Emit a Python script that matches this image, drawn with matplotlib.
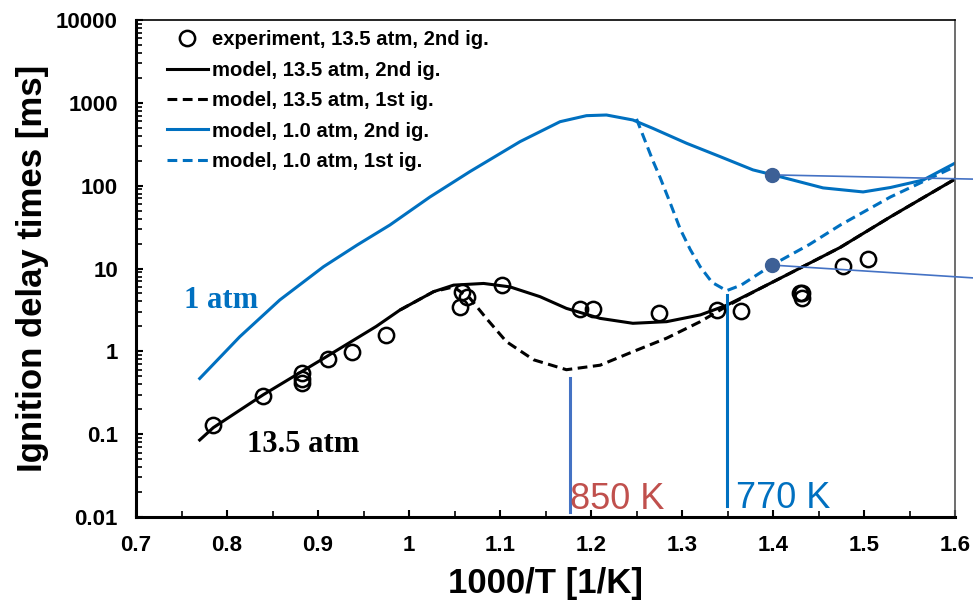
import matplotlib
matplotlib.use("Agg")
import matplotlib.pyplot as plt
from matplotlib.ticker import FixedLocator, LogLocator, NullFormatter

# experiment, 13.5 atm, 2nd ignition
exp_x = [0.785, 0.840, 0.882, 0.882, 0.882, 0.911, 0.937, 0.975, 1.056, 1.058, 1.064,
         1.102, 1.188, 1.202, 1.275, 1.338, 1.365, 1.430, 1.432, 1.432, 1.477, 1.504]
exp_y = [0.13, 0.29, 0.55, 0.46, 0.42, 0.81, 0.98, 1.58, 3.4, 5.2, 4.5,
         6.3, 3.2, 3.2, 2.9, 3.15, 3.05, 5.1, 5.0, 4.4, 10.7, 13.0]

# model, 13.5 atm, 2nd ig.
m135_x = [0.770, 0.785, 0.840, 0.906, 0.964, 0.990, 1.027, 1.049, 1.082, 1.111, 1.144,
          1.173, 1.210, 1.246, 1.283, 1.320, 1.349, 1.386, 1.419, 1.474, 1.529, 1.600]
m135_y = [0.085, 0.12, 0.30, 0.82, 2.0, 3.15, 5.25, 6.3, 6.6, 6.0, 4.57,
          3.3, 2.5, 2.18, 2.28, 2.75, 3.6, 5.75, 8.8, 18.0, 42.0, 120.0]

# model, 13.5 atm, 1st ig.
m135f_x = [0.990, 1.027, 1.049, 1.067, 1.085, 1.107, 1.137, 1.173, 1.210, 1.246, 1.283,
           1.320, 1.349, 1.386, 1.419, 1.474, 1.529, 1.600]
m135f_y = [3.15, 5.25, 6.0, 4.37, 2.5, 1.31, 0.79, 0.60, 0.68, 0.99, 1.44,
           2.28, 3.5, 5.75, 8.8, 18.0, 42.0, 120.0]

# model, 1.0 atm, 2nd ig.
m1_x = [0.770, 0.814, 0.858, 0.906, 0.943, 0.979, 1.023, 1.067, 1.122, 1.166, 1.195,
        1.217, 1.246, 1.268, 1.305, 1.342, 1.378, 1.400, 1.455, 1.499, 1.529, 1.565, 1.600]
m1_y = [0.47, 1.5, 4.17, 10.5, 19.2, 33.5, 73, 148, 340, 592, 700,
        713, 621, 492, 325, 224, 155, 135, 94, 84, 95, 117, 187]

# model, 1.0 atm, 1st ig.
m1f_x = [1.250, 1.268, 1.276, 1.287, 1.298, 1.309, 1.320, 1.333, 1.349, 1.365, 1.399,
         1.440, 1.474, 1.529, 1.600]
m1f_y = [640, 200, 125, 62, 30, 17, 10.5, 6.8, 5.4, 6.3, 11.0,
         19.5, 33.5, 73, 170]

# highlighted points and their callout lines
dot_x = [1.399, 1.399]
dot_y = [135, 11.0]
call_end_x = [1.62, 1.62]
call_end_y = [120, 7.7]

# temperature markers
t850_x, t850_y = 1000 / 850, [0.0115, 0.48]
t770_x, t770_y = 1.349, [0.0136, 4.8]

xticks = [0.7, 0.8, 0.9, 1.0, 1.1, 1.2, 1.3, 1.4, 1.5, 1.6]
xtick_labels = ["0.7", "0.8", "0.9", "1", "1.1", "1.2", "1.3", "1.4", "1.5", "1.6"]
yticks = [0.01, 0.1, 1, 10, 100, 1000, 10000]
ytick_labels = ["0.01", "0.1", "1", "10", "100", "1000", "10000"]

blue = "#0070C0"
plt.rcParams['font.family'] = ['Liberation Sans', 'DejaVu Sans']
plt.rcParams['lines.solid_joinstyle'] = 'round'
plt.rcParams['lines.dash_joinstyle'] = 'round'

fig = plt.figure(figsize=(9.73, 6.0), dpi=100)
ax = fig.add_axes([136 / 973, 1 - 517 / 600, 819 / 973, 497 / 600])

ax.plot(exp_x, exp_y, 'o', ls='none', mfc='none', mec='black', ms=11, mew=1.8,
        label="experiment, 13.5 atm, 2nd ig.", zorder=5)
ax.plot(m135_x, m135_y, '-', color='black', lw=2.2, label="model, 13.5 atm, 2nd ig.")
ax.plot(m135f_x, m135f_y, '--', color='black', lw=2.2, dashes=(3.2, 1.8),
        label="model, 13.5 atm, 1st ig.")
ax.plot(m1_x, m1_y, '-', color=blue, lw=2.2, label="model, 1.0 atm, 2nd ig.")
ax.plot(m1f_x, m1f_y, '--', color=blue, lw=2.2, dashes=(3.2, 1.8),
        label="model, 1.0 atm, 1st ig.")

# callouts going out of the frame
for x0, y0, x1, y1 in zip(dot_x, dot_y, call_end_x, call_end_y):
    ax.plot([x0, x1], [y0, y1], color="#4472C4", lw=1.2, clip_on=False, zorder=6)
ax.plot(dot_x, dot_y, 'o', ls='none', color="#3D6096", ms=10, zorder=7)

ax.plot([t850_x, t850_x], t850_y, color="#4472C4", lw=2.2)
ax.plot([t770_x, t770_x], t770_y, color=blue, lw=2.2)
ax.text(t850_x + 0.001, 0.0125, "850 K", color="#C0504D", fontsize=26, va='baseline', ha='left')
ax.text(t770_x + 0.01, 0.013, "770 K", color=blue, fontsize=26, va='baseline', ha='left')

ax.text(0.753, 3.3, "1 atm", color=blue, fontsize=22, fontweight='bold',
        family=['Liberation Serif', 'DejaVu Serif'], va='baseline')
ax.text(0.822, 0.061, "13.5 atm", color='black', fontsize=22, fontweight='bold',
        family=['Liberation Serif', 'DejaVu Serif'], va='baseline')

ax.set_yscale('log')
ax.set_xlim(0.7, 1.6)
ax.set_ylim(0.01, 10000)
ax.xaxis.set_major_locator(FixedLocator(xticks))
ax.set_xticklabels(xtick_labels)
ax.xaxis.set_minor_locator(FixedLocator([0.75, 0.85, 0.95, 1.05, 1.15, 1.25, 1.35, 1.45, 1.55]))
ax.yaxis.set_major_locator(FixedLocator(yticks))
ax.set_yticklabels(ytick_labels)
ax.yaxis.set_minor_locator(LogLocator(base=10, subs=range(2, 10), numticks=20))
ax.yaxis.set_minor_formatter(NullFormatter())

ax.tick_params(which='both', direction='in', top=False, right=False)
ax.tick_params(which='major', length=5, width=1.5, labelsize=16, pad=13)
ax.tick_params(which='minor', length=4, width=1.2)
for lab in ax.get_xticklabels() + ax.get_yticklabels():
    lab.set_fontweight('bold')

for s in ['left', 'bottom']:
    ax.spines[s].set_linewidth(2.2)
ax.spines['top'].set_linewidth(1.2)
ax.spines['right'].set_linewidth(1.2)
ax.spines['right'].set_color('#555555')

ax.set_xlabel("1000/T [1/K]", fontsize=25, fontweight='bold')
ax.set_ylabel("Ignition delay times [ms]", fontsize=25, fontweight='bold')
ax.xaxis.label.set_va('center')
ax.yaxis.label.set_va('center')
ax.xaxis.set_label_coords(0.5, -0.133)
ax.yaxis.set_label_coords(-0.126, 0.5)

leg = ax.legend(loc='upper left', bbox_to_anchor=(0.038, 0.979), frameon=False,
                prop={'weight': 'bold', 'size': 14.6}, handlelength=2.0, handletextpad=0.2,
                labelspacing=0.56, borderpad=0, borderaxespad=0, numpoints=1)

fig.savefig("out.png", dpi=100)
